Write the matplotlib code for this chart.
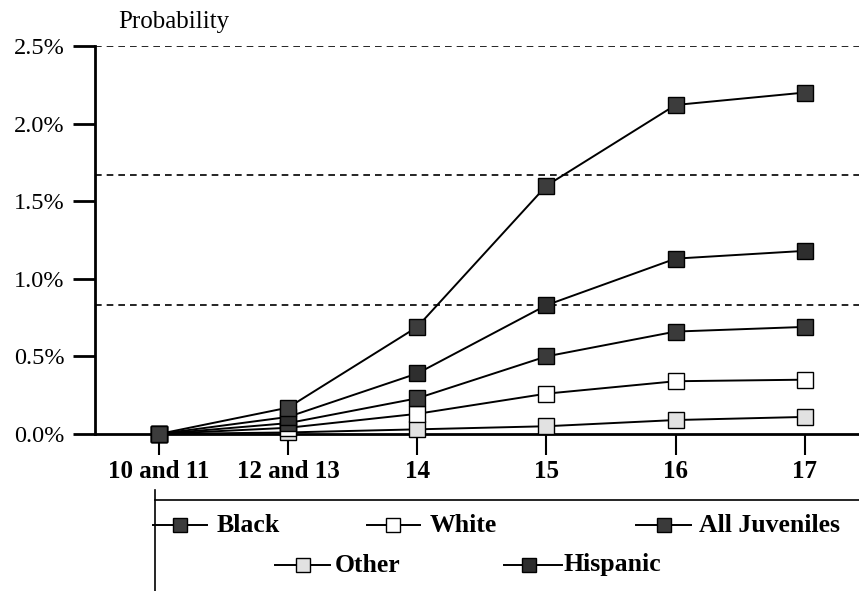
import matplotlib
matplotlib.use("Agg")
import matplotlib.pyplot as plt
from matplotlib.lines import Line2D
import numpy as np

plt.rcParams['font.family'] = ['Liberation Serif', 'DejaVu Serif']

categories = ["10 and 11", "12 and 13", "14", "15", "16", "17"]
black = [0.0, 0.17, 0.69, 1.60, 2.12, 2.20]
hispanic = [0.0, 0.11, 0.39, 0.83, 1.13, 1.18]
all_juv = [0.0, 0.07, 0.23, 0.50, 0.66, 0.69]
white = [0.0, 0.04, 0.13, 0.26, 0.34, 0.35]
other = [0.0, 0.01, 0.03, 0.05, 0.09, 0.11]
yticks = [0.0, 0.5, 1.0, 1.5, 2.0, 2.5]
ytick_labels = ["0.0%", "0.5%", "1.0%", "1.5%", "2.0%", "2.5%"]
grid_levels = [2.5 / 3, 5 / 3, 2.5]

series = [
    ("Other", other, "#e2e2e2"),
    ("White", white, "white"),
    ("All Juveniles", all_juv, "#3a3a3a"),
    ("Hispanic", hispanic, "#2e2e2e"),
    ("Black", black, "#3c3c3c"),
]

W, H = 859, 591
fig = plt.figure(figsize=(W / 100, H / 100), dpi=100)
ax = fig.add_axes([95 / W, 1 - 434 / H, (859 - 95) / W, (434 - 46) / H])

x = np.arange(len(categories))
for name, vals, fc in series:
    ax.plot(x, vals, color="black", lw=1.4, marker="s", markersize=11.5,
            markerfacecolor=fc, markeredgecolor="black", markeredgewidth=1.0,
            zorder=3, clip_on=False)

for g in grid_levels:
    ax.axhline(g, color="black", lw=1.2, ls=(0, (4, 3)), zorder=1)

ax.set_xlim(-0.495, 5.42)
ax.set_ylim(0, 2.5)
ax.set_yticks(yticks)
ax.set_yticklabels(ytick_labels, fontsize=17.5)
ax.set_xticks(x)
ax.set_xticklabels(categories, fontsize=18, fontweight="bold")
ax.tick_params(axis="y", direction="out", length=16, width=2, pad=6)
ax.tick_params(axis="x", direction="out", length=15, width=1.5, pad=4)
for s in ["top", "right"]:
    ax.spines[s].set_visible(False)
ax.spines["left"].set_linewidth(2)
ax.spines["bottom"].set_linewidth(2)

fig.text(118 / W, 1 - 22 / H, "Probability", fontsize=18, va="center", ha="left")

# legend frame (top and left edges)
fig.add_artist(Line2D([155 / W, 1.0], [1 - 500 / H, 1 - 500 / H], color="black", lw=1.2))
fig.add_artist(Line2D([155 / W, 155 / W], [1 - 490 / H, 0.0], color="black", lw=1.2))

legend_entries = [
    ("Black", "#3c3c3c", 153, 207, 180, 217, 525),
    ("White", "white", 367, 420, 393, 430, 525),
    ("All Juveniles", "#3a3a3a", 636, 691, 664, 699, 525),
    ("Other", "#e2e2e2", 275, 330, 303, 335, 565),
    ("Hispanic", "#2e2e2e", 504, 562, 529, 564, 565),
]
for name, fc, x0, x1, xm, xt, yy in legend_entries:
    fy = 1 - yy / H
    fig.add_artist(Line2D([x0 / W, x1 / W], [fy, fy], color="black", lw=1.4))
    fig.add_artist(Line2D([xm / W], [fy], marker="s", markersize=9.5, markerfacecolor=fc,
                          markeredgecolor="black", markeredgewidth=1.0, lw=0))
    fig.text(xt / W, fy, name, fontsize=18.5, fontweight="bold", va="center", ha="left")

fig.savefig("out.png", dpi=100)
